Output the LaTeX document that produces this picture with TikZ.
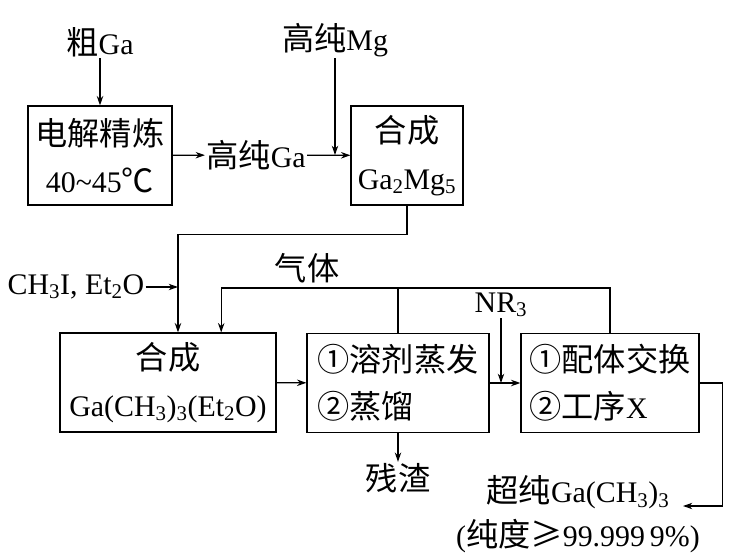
\documentclass[tikz,border=0pt]{standalone}
\usepackage{fontspec}
\setmainfont{Liberation Serif}[Scale=1.02]
\newfontfamily\cjk{Noto Sans CJK SC}[Scale=1.1]
\usetikzlibrary{arrows.meta, positioning, calc}

\begin{document}
\begin{tikzpicture}[
        x=0.03cm, y=-0.03cm,
        font=\fontsize{25}{40}\selectfont,
        process/.style={rectangle, draw=black, line width=1pt, minimum height=2.97cm, inner sep=0pt},
        note/.style={inner sep=1pt},
        arrow/.style={line width=1pt,->,>={Stealth[length=8pt,width=5.5pt]}},
        line/.style={line width=1pt},
    ]
        \useasboundingbox (0,0) rectangle (748,560);

        % Top row - refining and Ga2Mg5
        \node (box1) [process, minimum width=4.32cm, align=center] at (100,155.5) {{\cjk 电解精炼}\\40\textasciitilde45{\cjk ℃}};
        \node (box2) [process, minimum width=3.36cm, align=center] at (407,155.5) {{\cjk 合成}\\Ga\textsubscript{2}Mg\textsubscript{5}};
        \node (crude) [note] at (100,42) {{\cjk 粗}Ga};
        \node (mg) [note] at (335,40) {{\cjk 高纯}Mg};
        \node (ga) [note] at (256,155) {{\cjk 高纯}Ga};

        % Bottom row - synthesis, distillation, exchange
        \node (box3) [process, minimum width=6.48cm, align=center] at (168,382.5) {{\cjk 合成}\\Ga(CH\textsubscript{3})\textsubscript{3}(Et\textsubscript{2}O)};
        \node (box4) [process, minimum width=5.46cm, align=left] at (398,383) {{\cjk ①溶剂蒸发}\\{\cjk ②蒸馏}};
        \node (box5) [process, minimum width=5.34cm, align=left] at (610,383) {{\cjk ①配体交换}\\{\cjk ②工序}X};
        \node (ch3i) [note] at (76,287) {CH\textsubscript{3}I, Et\textsubscript{2}O};
        \node (gas) [note] at (307,268) {{\cjk 气体}};
        \node (nr) [note] at (501,305) {NR\textsubscript{3}};
        \node (residue) [note] at (398,478) {{\cjk 残渣}};
        \node (product) [note, align=center] at (578,514) {{\cjk 超纯}Ga(CH\textsubscript{3})\textsubscript{3}\\[-3pt]({\cjk 纯度≥}99.999\,9\%)};

        % Entry points on the boxes
        \coordinate (in3) at ($(box3.north west)!0.546!(box3.north east)$);
        \coordinate (gasin) at ($(box3.north west)!0.745!(box3.north east)$);
        \coordinate (out) at (683,506);

        % Top connections
        \draw [arrow] (crude) -- (box1);
        \draw [arrow] (box1) -- (ga);
        \draw [arrow] (ga) -- (box2);
        \draw [arrow] (mg) -- (mg |- ga);

        % Down to the second synthesis
        \draw [arrow] (box2.south) -- ++(0,29) -| (in3);
        \draw [arrow] (ch3i) -- (ch3i -| in3);

        % Gas return
        \draw [arrow] (box5.north) -- ++(0,-45) -| (gasin);
        \draw [line] (box4.north) -- ++(0,-45);

        % Main flow
        \draw [arrow] (box3) -- (box4);
        \draw [arrow] (box4) -- (box5);
        \draw [arrow] (nr) -- (nr |- box5.west);
        \draw [arrow] (box4) -- (residue);
        \draw [arrow] (box5.east) -- ++(23,0) |- (out);
    \end{tikzpicture}
\end{document}
